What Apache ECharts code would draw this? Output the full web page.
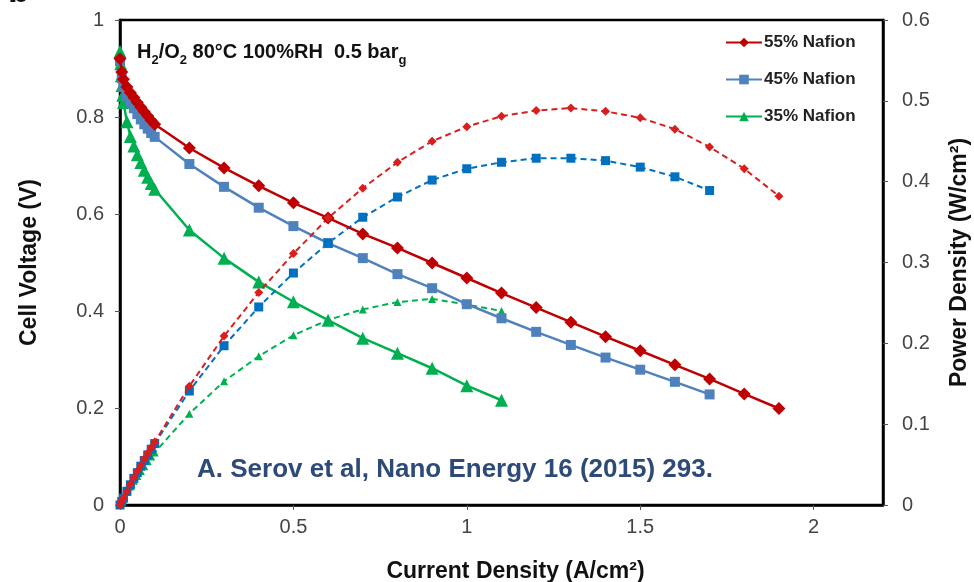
<!DOCTYPE html>
<html>
<head>
<meta charset="utf-8">
<script src="https://cdn.jsdelivr.net/npm/echarts@6/dist/echarts.min.js"></script>
<style>
  html, body { margin: 0; padding: 0; background: #fff; }
  #chart { width: 974px; height: 582px; }
</style>
</head>
<body>
<div id="chart"></div>
<script>
// current density (A/cm2) for each ink
var current55 = [0, 0.005, 0.01, 0.02, 0.03, 0.04, 0.05, 0.06, 0.07, 0.08, 0.09, 0.1,
  0.2, 0.3, 0.4, 0.5, 0.6, 0.7, 0.8, 0.9, 1.0, 1.1, 1.2, 1.3, 1.4, 1.5, 1.6, 1.7, 1.8, 1.9];
var current45 = [0, 0.005, 0.01, 0.02, 0.03, 0.04, 0.05, 0.06, 0.07, 0.08, 0.09, 0.1,
  0.2, 0.3, 0.4, 0.5, 0.6, 0.7, 0.8, 0.9, 1.0, 1.1, 1.2, 1.3, 1.4, 1.5, 1.6, 1.7];
var current35 = [0, 0.002, 0.004, 0.006, 0.008, 0.01, 0.02, 0.03, 0.04, 0.05, 0.06, 0.07, 0.08, 0.09, 0.1,
  0.2, 0.3, 0.4, 0.5, 0.6, 0.7, 0.8, 0.9, 1.0, 1.1];

// cell voltage (V)
var voltage55 = [0.92, 0.893, 0.878, 0.862, 0.85, 0.84, 0.83, 0.82, 0.811, 0.802, 0.793, 0.785,
  0.736, 0.695, 0.658, 0.623, 0.592, 0.559, 0.53, 0.499, 0.468, 0.437, 0.407, 0.377, 0.347, 0.318, 0.289, 0.26, 0.229, 0.199];
var voltage45 = [0.915, 0.88, 0.862, 0.843, 0.83, 0.818, 0.806, 0.795, 0.785, 0.776, 0.767, 0.759,
  0.703, 0.656, 0.613, 0.575, 0.54, 0.509, 0.476, 0.447, 0.414, 0.385, 0.357, 0.33, 0.304, 0.279, 0.254, 0.228];
var voltage35 = [0.935, 0.91, 0.885, 0.865, 0.845, 0.83, 0.79, 0.76, 0.74, 0.722, 0.706, 0.69, 0.676, 0.663, 0.651,
  0.567, 0.509, 0.46, 0.419, 0.381, 0.344, 0.313, 0.282, 0.246, 0.216];

// power density (W/cm2)
var power55 = [0, 0.0045, 0.0088, 0.017, 0.026, 0.034, 0.042, 0.049, 0.057, 0.064, 0.071, 0.078,
  0.147, 0.209, 0.263, 0.311, 0.355, 0.392, 0.424, 0.45, 0.468, 0.481, 0.488, 0.491, 0.487, 0.479, 0.465, 0.443, 0.416, 0.382];
var power45 = [0, 0.0044, 0.0086, 0.017, 0.025, 0.033, 0.04, 0.048, 0.055, 0.062, 0.069, 0.076,
  0.141, 0.197, 0.245, 0.287, 0.324, 0.356, 0.381, 0.402, 0.416, 0.424, 0.429, 0.429, 0.426, 0.418, 0.406, 0.389];
var power35 = [0, 0.0018, 0.0035, 0.0052, 0.0068, 0.0083, 0.016, 0.023, 0.03, 0.036, 0.042, 0.048, 0.054, 0.06, 0.065,
  0.113, 0.153, 0.184, 0.21, 0.229, 0.242, 0.251, 0.255, 0.248, 0.24];

var names = ['55% Nafion', '45% Nafion', '35% Nafion'];

function pairs(xs, ys) {
  return xs.map(function (x, i) { return [x, ys[i]]; });
}

var font = '"Liberation Sans", Arial, sans-serif';

var myChart = echarts.init(document.getElementById('chart'));
var option = {
  animation: false,
  textStyle: { fontFamily: font },
  grid: {
    left: 120, right: 91, top: 20, bottom: 77,
    outerBoundsMode: 'none',
    show: true, borderColor: '#000', borderWidth: 2.5
  },
  legend: {
    data: names,
    orient: 'vertical',
    left: 720, top: 29,
    itemGap: 20,
    itemWidth: 36, itemHeight: 12,
    textStyle: { fontSize: 17, fontWeight: 'bold', color: '#222', fontFamily: font, padding: [0, 0, 0, -3] }
  },
  title: {
    text: '{b|H}{s|2}{b|/O}{s|2}{b| 80°C 100%RH  0.5 bar}{s|g}',
    left: 132, top: 31,
    textStyle: {
      rich: {
        b: { fontSize: 20, fontWeight: 'bold', color: '#111', fontFamily: font, lineHeight: 26, verticalAlign: 'bottom' },
        s: { fontSize: 13, fontWeight: 'bold', color: '#111', fontFamily: font, lineHeight: 26, verticalAlign: 'bottom', padding: [0, 0, -5, 0] }
      }
    }
  },
  graphic: [
    {
      type: 'text', left: 197, top: 457,
      style: { text: 'A. Serov et al, Nano Energy 16 (2015) 293.', font: 'bold 26px ' + font, fill: '#2E4A78' }
    },
    {
      type: 'text', left: 8, top: -26,
      style: { text: 'b', font: 'bold 36px ' + font, fill: '#111' }
    }
  ],
  xAxis: {
    type: 'value', min: 0, max: 2.2, interval: 0.5,
    name: 'Current Density (A/cm²)', nameLocation: 'middle', nameGap: 55,
    nameTextStyle: { fontSize: 23, fontWeight: 'bold', color: '#111', padding: [0, 0, 0, 28] },
    axisLine: { lineStyle: { color: '#000', width: 2.5 } },
    axisTick: { show: true, length: 5, lineStyle: { color: '#555' } },
    axisLabel: { fontSize: 20, color: '#444', margin: 12, showMaxLabel: false },
    splitLine: { show: false }
  },
  yAxis: [
    {
      type: 'value', min: 0, max: 1, interval: 0.2,
      name: 'Cell Voltage (V)', nameLocation: 'middle', nameGap: 79, nameRotate: 90,
      nameTextStyle: { fontSize: 23, fontWeight: 'bold', color: '#111' },
      axisLine: { show: true, lineStyle: { color: '#000', width: 2.5 } },
      axisTick: { show: true, length: 5, lineStyle: { color: '#555' } },
      axisLabel: { fontSize: 20, color: '#444', margin: 16 },
      splitLine: { show: false }
    },
    {
      type: 'value', min: 0, max: 0.6, interval: 0.1,
      name: 'Power Density (W/cm²)', nameLocation: 'middle', nameGap: 65, nameRotate: 90,
      nameTextStyle: { fontSize: 23, fontWeight: 'bold', color: '#111' },
      axisLine: { show: true, lineStyle: { color: '#000', width: 2.5 } },
      axisTick: { show: true, length: 5, lineStyle: { color: '#555' } },
      axisLabel: { fontSize: 20, color: '#444', margin: 19 },
      splitLine: { show: false }
    }
  ],
  series: [
    {
      name: names[0], type: 'line', yAxisIndex: 0, data: pairs(current55, voltage55),
      symbol: 'diamond', symbolSize: 13,
      lineStyle: { color: '#C00000', width: 2.5 }, itemStyle: { color: '#C00000' }, z: 5
    },
    {
      name: names[1], type: 'line', yAxisIndex: 0, data: pairs(current45, voltage45),
      symbol: 'rect', symbolSize: 10,
      lineStyle: { color: '#4F81BD', width: 2.5 }, itemStyle: { color: '#4F81BD' }, z: 4
    },
    {
      name: names[2], type: 'line', yAxisIndex: 0, data: pairs(current35, voltage35),
      symbol: 'triangle', symbolSize: 13,
      lineStyle: { color: '#00B050', width: 2.5 }, itemStyle: { color: '#00B050' }, z: 3
    },
    {
      name: names[0] + ' power', type: 'line', yAxisIndex: 1, data: pairs(current55, power55),
      symbol: 'diamond', symbolSize: 9,
      lineStyle: { color: '#D91E1E', width: 2, type: [6, 4] }, itemStyle: { color: '#D91E1E' }, z: 5
    },
    {
      name: names[1] + ' power', type: 'line', yAxisIndex: 1, data: pairs(current45, power45),
      symbol: 'rect', symbolSize: 9,
      lineStyle: { color: '#0070C0', width: 2, type: [6, 4] }, itemStyle: { color: '#0070C0' }, z: 4
    },
    {
      name: names[2] + ' power', type: 'line', yAxisIndex: 1, data: pairs(current35, power35),
      symbol: 'triangle', symbolSize: 8,
      lineStyle: { color: '#00B050', width: 2, type: [6, 4] }, itemStyle: { color: '#00B050' }, z: 3
    }
  ]
};
myChart && myChart.setOption(option);
</script>
</body>
</html>
